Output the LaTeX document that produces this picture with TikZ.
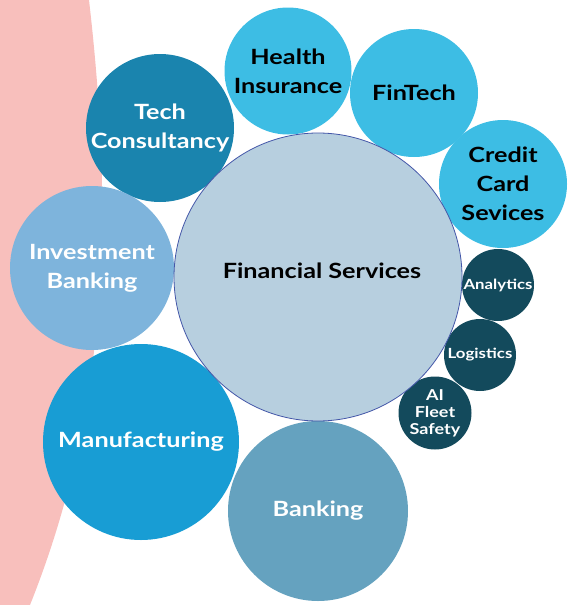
\documentclass[tikz,border=0pt]{standalone}
\usepackage{fontspec}
\setmainfont{Lato}[FakeStretch=1.2]
\usepackage{tikz}
\usepackage{xcolor}
\definecolor{blush}{RGB}{248,191,188}
\definecolor{techblue}{RGB}{26,132,174}
\definecolor{skyblue}{RGB}{61,189,228}
\definecolor{paleblue}{RGB}{183,207,223}
\definecolor{rimblue}{RGB}{67,86,168}
\definecolor{investblue}{RGB}{126,180,220}
\definecolor{makeblue}{RGB}{24,157,212}
\definecolor{bankblue}{RGB}{101,162,191}
\definecolor{deepteal}{RGB}{19,74,92}

\begin{document}
\begin{tikzpicture}[x=1pt,y=-1pt,
  bubble/.style={circle, inner sep=0pt, align=center, font=\bfseries\fontsize{21}{29}\selectfont},
  smallbubble/.style={bubble, fill=deepteal, text=white, minimum size=72pt}]
\useasboundingbox (0,0) rectangle (571,605);

% background band
\fill[blush] (0,0) -- (89,0) .. controls (112,200) and (112,400) .. (30,605) -- (0,605) -- cycle;

% outer bubbles
\node[bubble, fill=techblue, text=white, minimum size=148pt] (tech) at (160,128) {Tech\\Consultancy};
\node[bubble, fill=skyblue, text=black, minimum size=127pt] (health) at (288,71) {Health\\Insurance};
\node[bubble, fill=skyblue, text=black, minimum size=128pt] (fintech) at (414,93) {FinTech};
\node[bubble, fill=skyblue, text=black, minimum size=128pt] (credit) at (503,184) {Credit\\Card\\Sevices};
\node[bubble, fill=investblue, text=white, minimum size=164pt] (invest) at (92,268) {Investment\\Banking};
\node[bubble, fill=makeblue, text=white, minimum size=196pt] (manuf) at (141,442) {Manufacturing};
\node[bubble, fill=bankblue, text=white, minimum size=180pt] (bank) at (318,511) {Banking};

% small bubbles
\node[smallbubble, font=\bfseries\fontsize{14}{17}\selectfont] (analytics) at (498,285) {Analytics};
\node[smallbubble, font=\bfseries\fontsize{14}{17}\selectfont] (logistics) at (480,355) {Logistics};
\node[smallbubble, minimum size=73pt, font=\bfseries\fontsize{15}{17}\selectfont] (fleet) at (435,413) {AI\\Fleet\\Safety};

% centre bubble
\node[bubble, fill=paleblue, draw=rimblue, line width=0.8pt, minimum size=288pt] (finance) at (318,277) {};
\node[font=\bfseries\fontsize{21}{29}\selectfont] (financelabel) at (322,271) {Financial Services};
\end{tikzpicture}
\end{document}
